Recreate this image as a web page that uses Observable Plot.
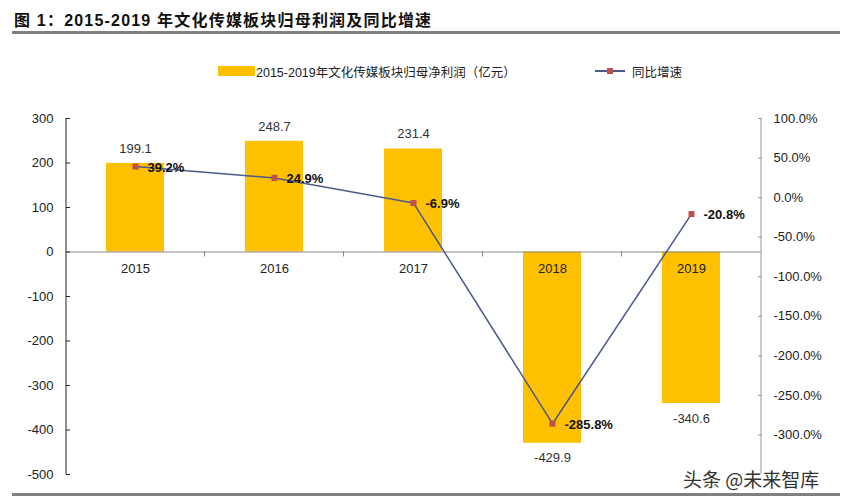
<!DOCTYPE html>
<html><head><meta charset="utf-8">
<script src="https://cdn.jsdelivr.net/npm/d3@7"></script>
<script src="https://cdn.jsdelivr.net/npm/@observablehq/plot@0.6"></script>
<style>
body{margin:0;background:#fff;font-family:"Liberation Sans","Noto Sans CJK SC",sans-serif;}
#wrap{position:relative;width:855px;height:501px;overflow:hidden;}
#title{position:absolute;left:14px;top:7px;font-size:16px;font-weight:bold;color:#111;letter-spacing:1.2px;font-family:"Liberation Sans","Noto Sans CJK SC",sans-serif;}
.hr{position:absolute;left:12px;width:828px;height:3px;background:#808080;}
#legend{position:absolute;top:62px;left:0;width:855px;height:20px;font-size:12.5px;color:#222;}
#chart{position:absolute;left:0;top:90px;}
#wm{position:absolute;left:683px;top:465px;font-size:19px;color:#333;font-family:"Noto Sans CJK SC",sans-serif;text-shadow:0 0 2px #fff,0 0 2px #fff;}
</style></head>
<body><div id="wrap">
<div id="title">图 1：2015-2019 年文化传媒板块归母利润及同比增速</div>
<div class="hr" style="top:31px"></div>
<div id="legend">
  <div style="position:absolute;left:218px;top:4px;width:37px;height:10px;background:#FFC000"></div>
  <div style="position:absolute;left:256px;top:0px">2015-2019年文化传媒板块归母净利润（亿元）</div>
  <div style="position:absolute;left:595px;top:8px;width:30px;height:2px;background:#4A5A8C"></div>
  <div style="position:absolute;left:607px;top:6px;width:6px;height:6px;background:#C0504D"></div>
  <div style="position:absolute;left:632px;top:0px">同比增速</div>
</div>
<div id="chart"></div>
<div class="hr" style="top:493px"></div>
<div id="wm">头条 @未来智库</div>
</div>
<script>
const years = ["2015","2016","2017","2018","2019"];
const profit = [199.1, 248.7, 231.4, -429.9, -340.6];
const growth = [39.2, 24.9, -6.9, -285.8, -20.8];
const leftTicks = [300,200,100,0,-100,-200,-300,-400,-500];
const rightTicks = [100,50,0,-50,-100,-150,-200,-250,-300];

// right axis domain [-350,100] mapped onto left [-500,300]
const toLeft = p => (p + 350) / 450 * 800 - 500;
const fromLeft = v => (v + 500) / 800 * 450 - 350;

const rows = years.map((y,i)=>({year:y, profit:profit[i], growth:growth[i], gy:toLeft(growth[i])}));
const pos = rows.filter(d=>d.profit>=0), neg = rows.filter(d=>d.profit<0);
const font = "Liberation Sans, Arial, sans-serif";

const chart = Plot.plot({
  width: 855, height: 411,
  marginLeft: 66, marginRight: 94, marginTop: 28, marginBottom: 27,
  style: {fontFamily: font, fontSize: "13px", color: "#222", background: "transparent"},
  x: {domain: years, paddingInner: 0.58, paddingOuter: 0.29, axis: null},
  y: {domain: [-500, 300], axis: null},
  marks: [
    Plot.barY(rows, {x:"year", y:"profit", fill:"#FFC000"}),
    Plot.ruleY([0], {stroke:"#888", strokeWidth:1}),
    Plot.axisY(leftTicks, {anchor:"left", tickSize:-4, tickPadding:17, fontSize:13, tickFormat:d=>String(d)}),
    Plot.axisY(rightTicks.map(toLeft), {anchor:"right", tickSize:-4, tickPadding:16, fontSize:13, stroke:"#999",
      tickFormat: d => Math.round(fromLeft(d)).toFixed(1) + "%"}),
    Plot.text(years, {x:d=>d, y:0, dy:17, text:d=>d, fontSize:13, fill:"#222"}),
    Plot.text(pos, {x:"year", y:"profit", text:d=>d.profit.toFixed(1), dy:-15, fontSize:13, fill:"#333"}),
    Plot.text(neg, {x:"year", y:"profit", text:d=>d.profit.toFixed(1), dy:15, fontSize:13, fill:"#333"}),
    Plot.line(rows, {x:"year", y:"gy", stroke:"#4A5A8C", strokeWidth:1.5}),
    Plot.dot(rows, {x:"year", y:"gy", symbol:"square", r:3.4, fill:"#C0504D", stroke:"none"}),
    Plot.text(rows, {x:"year", y:"gy", text:d=>d.growth.toFixed(1)+"%", textAnchor:"start", dx:12, dy:1, fontWeight:"bold", fontSize:13, fill:"#111"})
  ]
});
const svg = d3.select(chart);
const xs = chart.scale("x"), ys = chart.scale("y");
const yTop = ys.apply(300), yBot = ys.apply(-500), y0 = ys.apply(0);
const xL = xs.range[0], xR = xs.range[1];
svg.append("line").attr("x1",xL).attr("x2",xL).attr("y1",yTop).attr("y2",yBot).attr("stroke","#222");
svg.append("line").attr("x1",xR).attr("x2",xR).attr("y1",yTop).attr("y2",yBot).attr("stroke","#999");
const step = xs.step;
for (let i = 1; i < years.length; i++) {
  const bx = xs.apply(years[i]) - (step - xs.bandwidth) / 2;
  svg.append("line").attr("x1",bx).attr("x2",bx).attr("y1",y0).attr("y2",y0+5).attr("stroke","#888");
}
document.getElementById("chart").appendChild(chart);
</script>
</body></html>
